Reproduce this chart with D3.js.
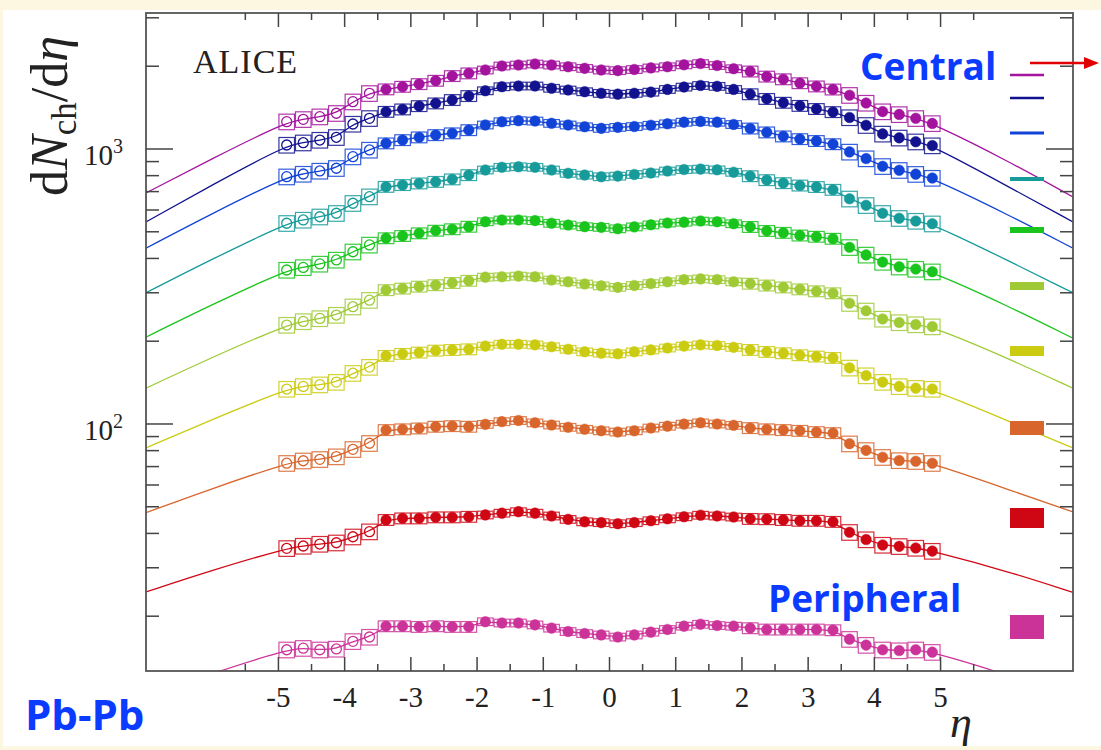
<!DOCTYPE html>
<html>
<head>
<meta charset="utf-8">
<script src="https://cdn.jsdelivr.net/npm/d3@7"></script>
<style>
  body { margin: 0; background: #fdf6e1; }
  svg { display: block; }
</style>
</head>
<body>
<div id="chart"></div>
<script>
// pseudorapidity bin centres
var eta = [-4.875, -4.625, -4.375, -4.125, -3.875, -3.625, -3.375, -3.125, -2.875, -2.625,
           -2.375, -2.125, -1.875, -1.625, -1.375, -1.125, -0.875, -0.625, -0.375, -0.125,
            0.125,  0.375,  0.625,  0.875,  1.125,  1.375,  1.625,  1.875,  2.125,  2.375,
            2.625,  2.875,  3.125,  3.375,  3.625,  3.875,  4.125,  4.375,  4.625,  4.875];

// dNch/deta per centrality class
var c0_5   = [1257,1282,1311,1349,1486,1594,1649,1685,1723,1772,1843,1885,1938,2004,2021,2038,2021,1992,1965,1938,
              1928,1946,1972,1992,2024,2045,2012,1959,1915,1835,1794,1736,1690,1647,1569,1470,1368,1336,1293,1239];
var c5_10  = [1034,1054,1078,1103,1233,1293,1366,1394,1433,1466,1508,1559,1629,1685,1695,1695,1663,1639,1616,1594,
              1583,1594,1610,1647,1680,1702,1690,1647,1583,1522,1474,1436,1399,1363,1302,1220,1135,1098,1063,1029];
var c10_20 = [793,811,832,851,938,992,1049,1078,1103,1124,1141,1172,1223,1257,1268,1264,1240,1223,1205,1189,
              1199,1207,1220,1235,1252,1260,1252,1228,1188,1150,1112,1087,1070,1042,976,923,865,837,810,784];
var c20_30 = [537,552,567,584,635,671,729,740,750,760,776,804,839,858,862,858,839,816,804,793,
              797,808,818,832,842,845,840,823,797,771,752,737,728,711,659,624,584,560,547,535];
var c30_40 = [363,371,382,395,423,448,474,483,494,505,511,522,544,552,552,549,537,529,522,519,
              513,521,530,538,542,547,544,535,521,504,496,485,480,472,439,412,388,373,366,358];
var c40_50 = [229,236,242,249,267,282,307,311,316,320,326,332,342,343,345,343,334,329,323,318,
              314,319,324,329,335,337,335,329,324,319,314,309,304,299,275,258,241,234,230,226];
var c50_60 = [134,137,139,142,153,161,177,180,182,185,186,187,192,195,195,194,191,187,183,181,
              180,183,186,189,192,194,193,190,186,183,181,178,176,174,160,150,142,137,135,134];
var c60_70 = [72.0,73.5,74.4,76.1,80.9,85.1,95.1,95.7,96.4,97.8,98.3,97.8,99.7,102,103,101,99.2,97.3,95.7,94.5,
              93.5,94.5,96.7,98.2,99.9,101,100,98.9,96.7,95.7,95.1,94.5,93.5,92.7,84.8,80.2,75.7,73.7,73.2,72.0];
var c70_80 = [35.3,36.0,36.6,37.0,38.9,40.6,44.8,45.4,45.4,45.8,45.8,46.0,46.7,47.4,48.0,47.4,46.3,45.0,44.1,43.8,
              43.4,43.8,44.5,45.2,46.0,46.6,46.3,45.9,45.2,45.1,44.8,44.5,44.5,44.1,40.4,38.0,36.3,35.9,35.4,34.5];
var c80_90 = [15.1,15.3,15.1,15.2,16.2,16.8,18.4,18.4,18.3,18.4,18.3,18.3,19.1,18.9,18.9,18.6,18.1,17.6,17.3,17.1,
              16.8,17.1,17.5,17.9,18.4,18.7,18.5,18.4,18.1,17.9,17.9,17.9,17.9,17.8,16.5,15.7,15.1,15.0,15.1,14.8];

// fit curve tails outside the data (eta = -7, -6 and 6, 7)
var tailEtaLeft = [-7, -6];
var tailEtaRight = [6, 7];
var tailsLeft  = [[692, 923], [543, 741], [436, 583], [300, 398], [207, 272],
                  [135, 175], [81.8, 104], [47.6, 58.3], [24.5, 29.4], [10.2, 12.4]];
var tailsRight = [[910, 669], [735, 543], [580, 436], [395, 300], [270, 205],
                  [174, 135], [103, 81.8], [58, 47.9], [29.2, 24.4], [12.3, 10.0]];

// relative systematic errors: |eta|>3.5, 2<|eta|<3.5, |eta|<2
var sysRel = [0.065, 0.045, 0.032];

var classes = ["0-5%", "5-10%", "10-20%", "20-30%", "30-40%", "40-50%", "50-60%", "60-70%", "70-80%", "80-90%"];
var values = [c0_5, c5_10, c10_20, c20_30, c30_40, c40_50, c50_60, c60_70, c70_80, c80_90];
var colors = ["#a3139d", "#12128e", "#1143d6", "#169a9a", "#19c41c", "#9fca36", "#cbcb12", "#d8652c", "#cf0714", "#cc3399"];

var xTicksMajor = [-5, -4, -3, -2, -1, 0, 1, 2, 3, 4, 5];
var xTicksMinor = [-5.5, -4.5, -3.5, -2.5, -1.5, -0.5, 0.5, 1.5, 2.5, 3.5, 4.5, 5.5];
var yTicksMajor = [100, 1000];
var yTicksMinor = [20, 30, 40, 50, 60, 70, 80, 90, 200, 300, 400, 500, 600, 700, 800, 900, 2000, 3000];

// legend swatch layout (centre y, thickness)
var legendY = [75, 98, 133, 179, 230, 286, 351, 428, 518, 627];
var legendH = [2.5, 2.5, 3, 4, 6, 8, 10, 14, 20, 24];

var W = 1101, H = 750;
var pL = 146, pR = 1073, pT = 13, pB = 671;

var svg = d3.select("#chart").append("svg")
    .attr("width", W)
    .attr("height", H);

svg.append("rect").attr("x", 0).attr("y", 0).attr("width", W).attr("height", H).attr("fill", "#fdf6e1");
svg.append("rect").attr("x", 3).attr("y", 10).attr("width", W - 3).attr("height", 736).attr("fill", "#ffffff");

var x = d3.scaleLinear().domain([-7, 7]).range([pL, pR]);
var y = d3.scaleLog().domain([12.64, 3123]).range([pB, pT]);

svg.append("clipPath").attr("id", "plotclip")
  .append("rect").attr("x", pL).attr("y", pT).attr("width", pR - pL).attr("height", pB - pT);

var plot = svg.append("g").attr("clip-path", "url(#plotclip)");

var line = d3.line()
    .x(function (d) { return x(d[0]); })
    .y(function (d) { return y(d[1]); })
    .curve(d3.curveBasis);

function sysFor(e) {
  var a = Math.abs(e);
  if (a > 3.5) return sysRel[0];
  if (a > 2) return sysRel[1];
  return sysRel[2];
}

values.forEach(function (vals, k) {
  var pts = [];
  tailEtaLeft.forEach(function (e, j) { pts.push([e, tailsLeft[k][j]]); });
  eta.forEach(function (e, i) { pts.push([e, vals[i]]); });
  tailEtaRight.forEach(function (e, j) { pts.push([e, tailsRight[k][j]]); });

  plot.append("path")
    .datum(pts)
    .attr("d", line)
    .attr("fill", "none")
    .attr("stroke", colors[k])
    .attr("stroke-width", 1.3);

  var g = plot.append("g");
  var bw = x(0.25) - x(0);

  g.selectAll("rect.sys")
    .data(eta)
    .enter().append("rect")
    .attr("class", "sys")
    .attr("x", function (e) { return x(e) - bw / 2 + 0.5; })
    .attr("width", bw - 1)
    .attr("y", function (e, i) { return y(vals[i] * (1 + sysFor(e))); })
    .attr("height", function (e, i) { return y(vals[i] * (1 - sysFor(e))) - y(vals[i] * (1 + sysFor(e))); })
    .attr("fill", "none")
    .attr("stroke", colors[k])
    .attr("stroke-opacity", 0.85)
    .attr("stroke-width", 1.2);

  g.selectAll("circle")
    .data(eta)
    .enter().append("circle")
    .attr("cx", function (e) { return x(e); })
    .attr("cy", function (e, i) { return y(vals[i]); })
    .attr("r", function (e) { return e < -3.5 ? 5 : 5.3; })
    .attr("fill", function (e) { return e < -3.5 ? "none" : colors[k]; })
    .attr("stroke", colors[k])
    .attr("stroke-width", function (e) { return e < -3.5 ? 1.3 : 0.5; });
});

// frame
svg.append("rect")
  .attr("x", pL).attr("y", pT)
  .attr("width", pR - pL).attr("height", pB - pT)
  .attr("fill", "none").attr("stroke", "#555").attr("stroke-width", 1.8);

var axes = svg.append("g").attr("stroke", "#444").attr("stroke-width", 1.5);

xTicksMajor.forEach(function (t) {
  axes.append("line").attr("x1", x(t)).attr("x2", x(t)).attr("y1", pB).attr("y2", pB - 14);
  axes.append("line").attr("x1", x(t)).attr("x2", x(t)).attr("y1", pT).attr("y2", pT + 14);
});
xTicksMinor.forEach(function (t) {
  axes.append("line").attr("x1", x(t)).attr("x2", x(t)).attr("y1", pB).attr("y2", pB - 7);
  axes.append("line").attr("x1", x(t)).attr("x2", x(t)).attr("y1", pT).attr("y2", pT + 7);
});
yTicksMajor.forEach(function (t) {
  axes.append("line").attr("x1", pL).attr("x2", pL + 27).attr("y1", y(t)).attr("y2", y(t));
  axes.append("line").attr("x1", pR).attr("x2", pR - 27).attr("y1", y(t)).attr("y2", y(t));
});
yTicksMinor.forEach(function (t) {
  axes.append("line").attr("x1", pL).attr("x2", pL + 13).attr("y1", y(t)).attr("y2", y(t));
  axes.append("line").attr("x1", pR).attr("x2", pR - 13).attr("y1", y(t)).attr("y2", y(t));
});

var serif = "'Liberation Serif', 'DejaVu Serif', serif";

svg.selectAll(".xlab")
  .data(xTicksMajor)
  .enter().append("text")
  .attr("class", "xlab")
  .attr("x", function (d) { return x(d); })
  .attr("y", 707)
  .attr("text-anchor", "middle")
  .style("font-family", serif)
  .style("font-size", "29px")
  .style("fill", "#222")
  .text(function (d) { return d; });

yTicksMajor.forEach(function (t) {
  var lab = svg.append("text")
    .attr("x", 123)
    .attr("y", y(t) + 16)
    .attr("text-anchor", "end")
    .style("font-family", serif)
    .style("font-size", "29px")
    .style("fill", "#222");
  lab.append("tspan").text("10");
  lab.append("tspan").attr("dy", -12).style("font-size", "20px").text(Math.round(Math.log10(t)));
});

// y title
var yt = svg.append("text")
  .attr("transform", "translate(67,116) rotate(-90)")
  .attr("text-anchor", "middle")
  .style("font-family", serif)
  .style("font-size", "52px")
  .style("fill", "#222");
yt.append("tspan").text("d");
yt.append("tspan").style("font-style", "italic").text("N");
yt.append("tspan").attr("dy", 9).style("font-size", "35px").text("ch");
yt.append("tspan").attr("dy", -9).text("/d");
yt.append("tspan").style("font-style", "italic").text("η");

svg.append("text")
  .attr("x", 961).attr("y", 737)
  .attr("text-anchor", "middle")
  .style("font-family", serif)
  .style("font-style", "italic")
  .style("font-size", "44px")
  .style("fill", "#222")
  .text("η");

svg.append("text")
  .attr("x", 193).attr("y", 73)
  .style("font-family", serif)
  .style("font-size", "34px")
  .style("letter-spacing", "1px")
  .style("fill", "#222")
  .text("ALICE");

// legend swatches
svg.selectAll(".leg")
  .data(classes)
  .enter().append("rect")
  .attr("class", "leg")
  .attr("x", 1010)
  .attr("width", 34)
  .attr("y", function (d, i) { return legendY[i] - legendH[i] / 2; })
  .attr("height", function (d, i) { return legendH[i]; })
  .attr("fill", function (d, i) { return colors[i]; });

var sans = "'Open Sans', 'Noto Sans', sans-serif";
var blue = "#0b3bff";

svg.append("text").attr("x", 860).attr("y", 80)
  .style("font-family", sans).style("font-weight", 700).style("font-size", "37px")
  .style("fill", blue).text("Central");
svg.append("text").attr("x", 768).attr("y", 612)
  .style("font-family", sans).style("font-weight", 700).style("font-size", "37px")
  .style("fill", blue).text("Peripheral");
svg.append("text").attr("x", 25).attr("y", 730)
  .style("font-family", sans).style("font-weight", 700).style("font-size", "42px")
  .style("fill", blue).text("Pb-Pb");

// red arrow
svg.append("line")
  .attr("x1", 1030).attr("x2", 1086).attr("y1", 63).attr("y2", 63)
  .attr("stroke", "#e00000").attr("stroke-width", 2.5);
svg.append("path")
  .attr("d", "M1084,57 L1099,63 L1084,69 Z")
  .attr("fill", "#e00000");
</script>
</body>
</html>
